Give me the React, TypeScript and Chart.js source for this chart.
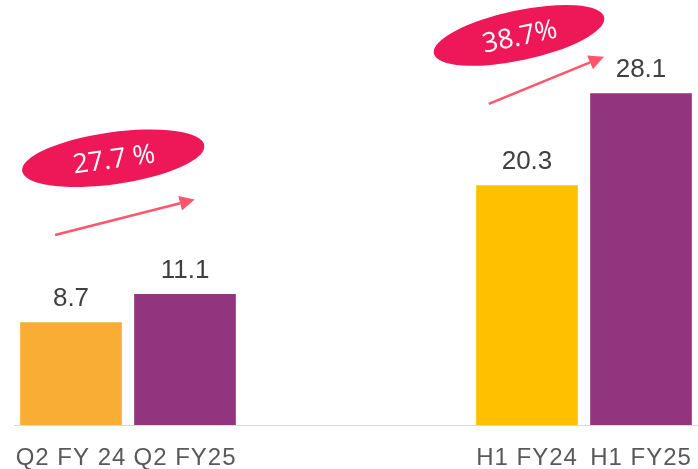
import React, { useEffect, useRef } from "react";
import { Chart, registerables } from "chart.js";

Chart.register(...registerables);

const categories = ["Q2 FY 24", "Q2 FY25", "", "", "H1 FY24", "H1 FY25"];
const values: (number | null)[] = [8.7, 11.1, null, null, 20.3, 28.1];
const barColors = ["#FAAD34", "#92357F", "#92357F", "#92357F", "#FFC000", "#92357F"];
const valueLabels = ["8.7", "11.1", "", "", "20.3", "28.1"];

// growth callouts (positions in category-index / value units)
const growthTexts = ["27.7 %", "38.7%"];
const growthCenters = [
  { x: 0.37, y: 22.6 },
  { x: 3.93, y: 33.0 },
];
const growthAngles = [-8, -12];
const arrowTails = [
  { x: -0.14, y: 16.1 },
  { x: 3.665, y: 27.2 },
];
const arrowTips = [
  { x: 1.085, y: 19.1 },
  { x: 4.675, y: 31.2 },
];

const spacingPlugin = {
  id: "spacing",
  beforeDraw(chart: any) {
    chart.ctx.letterSpacing = "1px";
  },
  beforeDatasetsDraw(chart: any) {
    chart.ctx.letterSpacing = "0px";
  },
};

const overlayPlugin = {
  id: "overlay",
  afterDatasetsDraw(chart: any) {
    const ctx = chart.ctx;
    const xs = chart.scales.x;
    const ys = chart.scales.y;
    const meta = chart.getDatasetMeta(0);

    // value labels
    ctx.save();
    ctx.letterSpacing = "0px";
    ctx.font = "26px 'Liberation Sans', Arial, sans-serif";
    ctx.fillStyle = "#404040";
    ctx.textAlign = "center";
    ctx.textBaseline = "alphabetic";
    meta.data.forEach((bar: any, i: number) => {
      if (values[i] == null) return;
      ctx.fillText(valueLabels[i], bar.x, bar.y - 16);
    });
    ctx.restore();

    // arrows
    for (let i = 0; i < arrowTails.length; i++) {
      const x1 = xs.getPixelForValue(arrowTails[i].x);
      const y1 = ys.getPixelForValue(arrowTails[i].y);
      const x2 = xs.getPixelForValue(arrowTips[i].x);
      const y2 = ys.getPixelForValue(arrowTips[i].y);
      const ang = Math.atan2(y2 - y1, x2 - x1);
      const headLen = 15;
      const headHalf = 7.5;
      const bx = x2 - headLen * Math.cos(ang);
      const by = y2 - headLen * Math.sin(ang);
      ctx.save();
      ctx.strokeStyle = "#FF566B";
      ctx.fillStyle = "#FF566B";
      ctx.lineWidth = 2.5;
      ctx.beginPath();
      ctx.moveTo(x1, y1);
      ctx.lineTo(bx, by);
      ctx.stroke();
      ctx.beginPath();
      ctx.moveTo(x2, y2);
      ctx.lineTo(bx + headHalf * Math.sin(ang), by - headHalf * Math.cos(ang));
      ctx.lineTo(bx - headHalf * Math.sin(ang), by + headHalf * Math.cos(ang));
      ctx.closePath();
      ctx.fill();
      ctx.restore();
    }

    // ellipses with growth text
    const radii = [
      { a: 92, b: 26 },
      { a: 87, b: 25 },
    ];
    for (let i = 0; i < growthCenters.length; i++) {
      const cx = xs.getPixelForValue(growthCenters[i].x);
      const cy = ys.getPixelForValue(growthCenters[i].y);
      const rot = (growthAngles[i] * Math.PI) / 180;
      ctx.save();
      ctx.letterSpacing = "0px";
      ctx.fillStyle = "#EE1859";
      ctx.beginPath();
      ctx.ellipse(cx, cy, radii[i].a, radii[i].b, rot, 0, Math.PI * 2);
      ctx.fill();
      ctx.translate(cx + 1, cy + 2);
      ctx.rotate(rot);
      ctx.fillStyle = "#FFFFFF";
      ctx.font = "27px 'Open Sans', 'Noto Sans', sans-serif";
      ctx.textAlign = "center";
      ctx.textBaseline = "middle";
      ctx.fillText(growthTexts[i], 0, 0);
      ctx.restore();
    }
  },
};

export default function App() {
  const canvasRef = useRef<HTMLCanvasElement>(null);

  useEffect(() => {
    if (!canvasRef.current) return;
    const chart = new Chart(canvasRef.current, {
      type: "bar",
      data: {
        labels: categories,
        datasets: [
          {
            data: values as any,
            backgroundColor: barColors,
            borderWidth: 0,
            barPercentage: 0.892,
            categoryPercentage: 1,
          },
        ],
      },
      options: {
        animation: false,
        responsive: true,
        maintainAspectRatio: false,
        layout: { padding: { left: 14, right: -2, top: 0, bottom: 0 } },
        plugins: {
          legend: { display: false },
          tooltip: { enabled: false },
        },
        scales: {
          x: {
            grid: { display: false, drawTicks: false },
            border: { display: true, color: "#D9D9D9", width: 1 },
            ticks: {
              color: "#595959",
              font: { family: "'Liberation Sans', Arial, sans-serif", size: 24, lineHeight: 1 },
              padding: 21,
              maxRotation: 0,
              autoSkip: false,
            },
            afterFit: (scale: any) => {
              scale.height = 44;
              scale.paddingLeft = 0;
              scale.paddingRight = 0;
            },
          },
          y: {
            display: false,
            min: 0,
            max: 36,
          },
        },
      },
      plugins: [spacingPlugin, overlayPlugin],
    });
    return () => chart.destroy();
  }, []);

  return (
    <div style={{ position: "absolute", left: 0, top: 0, width: 698, height: 469, background: "#fff" }}>
      <canvas ref={canvasRef} />
    </div>
  );
}
